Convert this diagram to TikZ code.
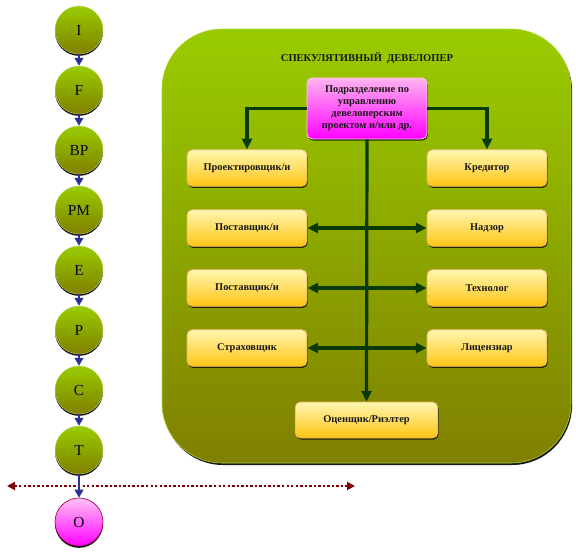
\documentclass[tikz,border=0pt]{standalone}
\usepackage{fontspec}
\setmainfont{Liberation Serif}
\usetikzlibrary{arrows.meta,shadows}
\definecolor{gtop}{HTML}{99CC00}
\definecolor{gbot}{HTML}{808000}
\definecolor{navyc}{HTML}{2E3192}
\definecolor{lineg}{HTML}{0A3A0A}
\definecolor{ytop}{HTML}{FFF6B0}
\definecolor{ybot}{HTML}{FFC514}
\definecolor{yedge}{HTML}{E8B468}
\definecolor{mtop}{HTML}{FFB4F0}
\definecolor{mbot}{HTML}{FF00FF}
\definecolor{dred}{HTML}{800000}
\tikzset{
  stage/.style={circle, minimum size=36pt, inner sep=0pt, top color=gtop, bottom color=gbot,
    draw=gtop!60!white, line width=0.3pt, font=\fontsize{11.5}{13}\selectfont, text=black!85!navyc,
    drop shadow={shadow xshift=0pt, shadow yshift=-1.4pt, fill=black, opacity=0.9}},
  ostage/.style={stage, top color=mtop!80!white, bottom color=mbot, draw=dred!70!mbot, line width=0.5pt},
  ybox/.style={rectangle, rounded corners=4pt, minimum width=90pt, minimum height=27.5pt,
    inner sep=1pt, top color=ytop, bottom color=ybot, draw=yedge, line width=0.6pt,
    font=\bfseries\fontsize{7.8}{9.5}\selectfont, text=black!90,
    drop shadow={shadow xshift=0.6pt, shadow yshift=-1.2pt, fill=black, opacity=0.75}},
  mbox/.style={ybox, minimum height=45.75pt, top color=mtop, bottom color=mbot, draw=mtop!70!white,
    align=center, font=\bfseries\fontsize{7.8}{9}\selectfont},
  flow/.style={navyc, line width=1.7pt, -{Triangle[length=6pt,width=6.5pt]}},
  conn/.style={lineg, line width=2.4pt, -{Triangle[length=8pt,width=7.5pt]}},
  conn2/.style={lineg, line width=2.4pt, {Triangle[length=8pt,width=7.5pt]}-{Triangle[length=8pt,width=7.5pt]}},
  dotline/.style={dred, line width=2pt, dash pattern=on 1.8pt off 1.6pt,
    {Triangle[length=6pt,width=6pt]}-{Triangle[length=6pt,width=6pt]}},
}
\begin{document}
\begin{tikzpicture}[x=0.75pt,y=-0.75pt]
\useasboundingbox (0,0) rectangle (576,551);
% big box
\node (dev) [rectangle, rounded corners=45pt, minimum width=306.75pt, minimum height=325.5pt,
  top color=gtop, bottom color=gbot, draw=gtop!80!white, line width=0.4pt,
  drop shadow={shadow xshift=0.8pt, shadow yshift=-1.5pt, fill=black, opacity=0.9}] at (366.5,246) {};
\node (title) [font=\bfseries\fontsize{7.9}{9}\selectfont, text=black!90] at (367,58) {СПЕКУЛЯТИВНЫЙ\ \ ДЕВЕЛОПЕР};
% manager
\node (mgr) [mbox] at (367,108.5) {Подразделение по\\управлению\\девелоперским\\проектом и/или др.};
% boxes
\node (proj) [ybox] at (247,168) {Проектировщик/и};
\node (kred) [ybox] at (487,168) {Кредитор};
\node (post1) [ybox] at (247,228) {Поставщик/и};
\node (nadz) [ybox] at (487,228) {Надзор};
\node (post2) [ybox] at (247,288) {Поставщик/и};
\node (tech) [ybox] at (487,288) {Технолог};
\node (strah) [ybox] at (247,348) {Страховщик};
\node (lic) [ybox] at (487,348) {Лицензиар};
\node (oc) [ybox, minimum width=107pt, minimum height=27pt] at (366.5,420) {Оценщик/Риэлтер};
% connectors
\draw[conn] (mgr.west) -| (proj.north);
\draw[conn] (mgr.east) -| (kred.north);
\draw[conn] (mgr.south) -- (oc.north);
\draw[conn2] (post1.east) -- (nadz.west);
\draw[conn2] (post2.east) -- (tech.west);
\draw[conn2] (strah.east) -- (lic.west);
% stages
\node (cI) [stage] at (79,30) {I};
\node (cF) [stage] at (79,90) {F};
\node (cBP) [stage] at (79,150) {BP};
\node (cPM) [stage] at (79,210) {PM};
\node (cE) [stage] at (79,270) {E};
\node (cP) [stage] at (79,330) {P};
\node (cC) [stage] at (79,390) {C};
\node (cT) [stage] at (79,450) {T};
\node (cO) [ostage] at (79,522) {O};
\coordinate (dl) at (7,486);
\coordinate (dr) at (355,486);
\draw[dotline] (dl) -- (dr);
\draw[flow] (cI.south) -- (cF.north);
\draw[flow] (cF.south) -- (cBP.north);
\draw[flow] (cBP.south) -- (cPM.north);
\draw[flow] (cPM.south) -- (cE.north);
\draw[flow] (cE.south) -- (cP.north);
\draw[flow] (cP.south) -- (cC.north);
\draw[flow] (cC.south) -- (cT.north);
\draw[flow] (cT.south) -- (cO.north);
\end{tikzpicture}
\end{document}
